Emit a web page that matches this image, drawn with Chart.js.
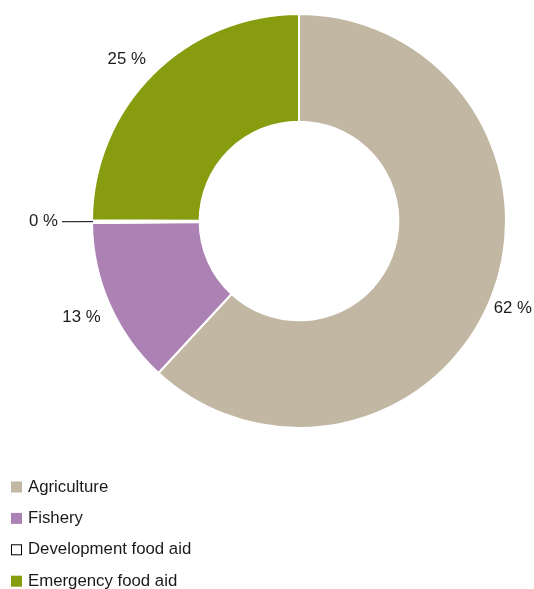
<!DOCTYPE html>
<html>
<head>
<meta charset="utf-8">
<script src="https://cdn.jsdelivr.net/npm/chart.js@4.4.0/dist/chart.umd.min.js"></script>
<style>
  html, body { margin: 0; padding: 0; background: #fff; }
  #wrap { width: 534px; height: 589px; }
</style>
</head>
<body>
<div id="wrap"><canvas id="chart" width="534" height="589"></canvas></div>
<script>
const categories = ["Agriculture", "Fishery", "Development food aid", "Emergency food aid"];
const shares = [62, 13, 0.2, 25];
const shareLabels = ["62 %", "13 %", "0 %", "25 %"];
const colors = ["#c2b7a3", "#ac82b4", "#ffffff", "#879c0e"];

const FONT = "16.8px 'Liberation Sans', Arial, sans-serif";

// labels outside each slice, a leader line for the empty one
const outLabels = {
  id: "outLabels",
  afterDatasetsDraw(chart) {
    const ctx = chart.ctx;
    const meta = chart.getDatasetMeta(0);
    ctx.save();
    ctx.font = FONT;
    ctx.fillStyle = "#1a1a1a";
    meta.data.forEach((arc, i) => {
      const p = arc.getProps(["x", "y", "startAngle", "endAngle", "outerRadius"], true);
      const mid = (p.startAngle + p.endAngle) / 2;
      const cos = Math.cos(mid), sin = Math.sin(mid);
      if (shares[i] < 1) {
        ctx.strokeStyle = "#000";
        ctx.lineWidth = 1;
        ctx.beginPath();
        ctx.moveTo(p.x + cos * (p.outerRadius - 1), p.y + sin * (p.outerRadius - 1));
        ctx.lineTo(p.x + cos * (p.outerRadius + 30), p.y + sin * (p.outerRadius + 30));
        ctx.stroke();
        ctx.textAlign = "right";
        ctx.textBaseline = "middle";
        ctx.fillText(shareLabels[i], p.x + cos * (p.outerRadius + 34), p.y + sin * (p.outerRadius + 34));
      } else {
        // the corner of the text nearest the ring sits just outside it
        const r = p.outerRadius + 10;
        const tw = ctx.measureText(shareLabels[i]).width;
        let x = p.x + cos * r;
        if (cos >= 0) x = Math.min(x, chart.width - tw - 2);
        else x = Math.max(x, tw + 2);
        ctx.textAlign = cos >= 0 ? "left" : "right";
        ctx.textBaseline = sin >= 0 ? "top" : "bottom";
        ctx.fillText(shareLabels[i], x, p.y + sin * r);
      }
    });
    ctx.restore();
  }
};

// vertical legend in the bottom left corner
const sideLegend = {
  id: "sideLegend",
  afterDraw(chart) {
    const ctx = chart.ctx;
    ctx.save();
    ctx.font = FONT;
    ctx.textAlign = "left";
    ctx.textBaseline = "middle";
    categories.forEach((name, i) => {
      const y = 487 + i * 31.4;
      ctx.fillStyle = colors[i];
      ctx.fillRect(11, y - 5.5, 11, 11);
      if (colors[i] === "#ffffff") {
        ctx.strokeStyle = "#000";
        ctx.lineWidth = 1;
        ctx.strokeRect(11.5, y - 5, 10, 10);
      }
      ctx.fillStyle = "#1a1a1a";
      ctx.fillText(name, 28, y);
    });
    ctx.restore();
  }
};

new Chart(document.getElementById("chart"), {
  type: "doughnut",
  data: {
    labels: categories,
    datasets: [{
      data: shares,
      backgroundColor: colors,
      borderColor: "#ffffff",
      borderWidth: 2
    }]
  },
  options: {
    responsive: false,
    animation: false,
    cutout: "48%",
    layout: { padding: { left: 91, right: 27, top: 13, bottom: 160 } },
    plugins: {
      legend: { display: false },
      tooltip: { enabled: false }
    }
  },
  plugins: [outLabels, sideLegend]
});
</script>
</body>
</html>
